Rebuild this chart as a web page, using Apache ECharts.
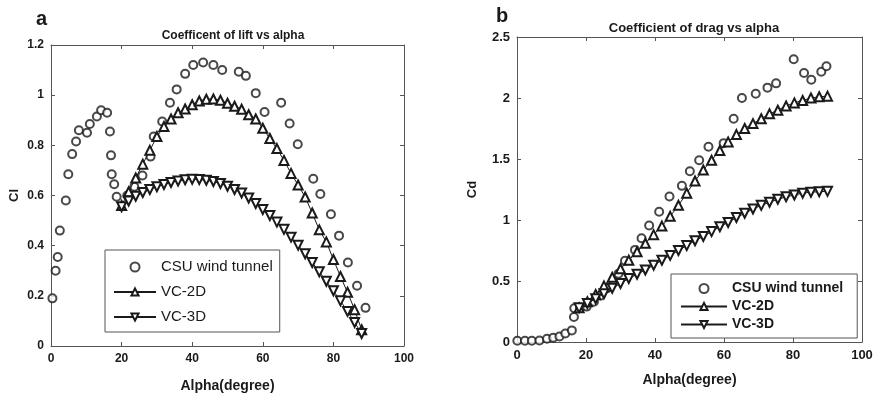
<!DOCTYPE html>
<html>
<head>
<meta charset="utf-8">
<script src="https://cdn.jsdelivr.net/npm/echarts@6/dist/echarts.min.js"></script>
<style>
  html, body { margin: 0; padding: 0; background: #fff; }
  #chart { width: 878px; height: 400px; }
</style>
</head>
<body>
<div id="chart"></div>
<script>
// ---- panel a : lift ----
const liftCsuX = [0.4, 1.3, 1.9, 2.5, 4.2, 4.9, 6.0, 7.1, 7.9, 10.2, 11.0, 13.0, 14.2, 15.9, 16.7, 17.0, 17.2, 17.9, 18.6,
  21.6, 23.6, 25.9, 28.2, 29.1, 31.5, 33.7, 35.6, 38.0, 40.3, 43.1, 46.0, 48.5, 53.2, 55.2, 58.0, 60.5, 65.2, 67.6, 69.9,
  74.3, 76.3, 79.3, 81.6, 84.1, 86.7, 89.1];
const liftCsuY = [0.19, 0.30, 0.355, 0.46, 0.58, 0.685, 0.765, 0.815, 0.86, 0.85, 0.885, 0.915, 0.94, 0.93, 0.855, 0.76, 0.685, 0.645, 0.595,
  0.60, 0.635, 0.68, 0.755, 0.835, 0.895, 0.97, 1.023, 1.085, 1.12, 1.13, 1.12, 1.10, 1.093, 1.077, 1.008, 0.933, 0.97, 0.887, 0.804,
  0.667, 0.606, 0.525, 0.44, 0.333, 0.24, 0.152];
const liftVcX = [20, 22, 24, 26, 28, 30, 32, 34, 36, 38, 40, 42, 44, 46, 48, 50, 52, 54, 56, 58, 60, 62, 64, 66, 68, 70,
  72, 74, 76, 78, 80, 82, 84, 86, 88];
const lift2dY = [0.56, 0.615, 0.67, 0.725, 0.78, 0.835, 0.875, 0.905, 0.93, 0.945, 0.962, 0.977, 0.984, 0.985, 0.98, 0.968,
  0.956, 0.944, 0.922, 0.905, 0.868, 0.827, 0.787, 0.74, 0.688, 0.642, 0.594, 0.53, 0.463, 0.415, 0.345, 0.277, 0.214, 0.145, 0.065];
const lift3dY = [0.555, 0.578, 0.597, 0.612, 0.624, 0.635, 0.644, 0.652, 0.658, 0.663, 0.665, 0.664, 0.661, 0.656, 0.648, 0.637,
  0.624, 0.61, 0.59, 0.568, 0.544, 0.52, 0.494, 0.465, 0.434, 0.402, 0.368, 0.333, 0.296, 0.258, 0.22, 0.18, 0.138, 0.094, 0.05];

// ---- panel b : drag ----
const dragCsuX = [0.1, 2.3, 4.3, 6.5, 8.7, 10.5, 12.3, 14.0, 15.9, 16.5, 16.6, 18.3, 20.2, 22.3, 24.2, 26.2, 28.0, 29.4, 31.3,
  34.2, 36.1, 38.3, 41.2, 44.2, 47.8, 50.1, 52.8, 55.5, 59.9, 62.8, 65.2, 69.2, 72.6, 75.1, 80.2, 83.2, 85.3, 88.2, 89.7];
const dragCsuY = [0.01, 0.01, 0.01, 0.013, 0.027, 0.035, 0.045, 0.07, 0.095, 0.205, 0.276, 0.278, 0.29, 0.33, 0.38, 0.44, 0.50, 0.56, 0.665,
  0.755, 0.85, 0.955, 1.067, 1.193, 1.28, 1.40, 1.49, 1.60, 1.63, 1.83, 2.0, 2.035, 2.085, 2.12, 2.317, 2.205, 2.15, 2.215, 2.26];
const dragVcX = [18, 20.4, 22.8, 25.2, 27.6, 30, 32.4, 34.8, 37.2, 39.6, 42, 44.4, 46.8, 49.2, 51.6, 54, 56.4, 58.8, 61.2,
  63.6, 66, 68.4, 70.8, 73.2, 75.6, 78, 80.4, 82.8, 85.2, 87.6, 90];
const drag2dY = [0.28, 0.33, 0.39, 0.46, 0.53, 0.60, 0.67, 0.74, 0.81, 0.88, 0.95, 1.03, 1.12, 1.22, 1.32, 1.41, 1.49, 1.57, 1.64,
  1.70, 1.75, 1.79, 1.83, 1.87, 1.90, 1.935, 1.96, 1.98, 2.0, 2.01, 2.015];
const drag3dY = [0.28, 0.315, 0.355, 0.395, 0.44, 0.48, 0.52, 0.555, 0.59, 0.63, 0.67, 0.71, 0.75, 0.79, 0.83, 0.865, 0.905, 0.945, 0.98,
  1.02, 1.055, 1.09, 1.12, 1.145, 1.17, 1.19, 1.205, 1.22, 1.228, 1.232, 1.235];

const seriesNames = ['CSU wind tunnel', 'VC-2D', 'VC-3D'];

function pairs(xs, ys) {
  return xs.map((x, i) => [x, ys[i]]);
}

const ink = '#1a1a1a';
const boxColor = '#555';
const font = 'Liberation Sans, Arial, sans-serif';

function axisPair(grid, isX, min, max, interval, name, nameGap, nameSize, labelSize) {
  const main = {
    type: 'value', gridIndex: grid, min: min, max: max, interval: interval,
    position: isX ? 'bottom' : 'left',
    name: name, nameLocation: 'middle', nameGap: nameGap,
    nameTextStyle: { color: ink, fontSize: nameSize, fontWeight: 'bold', fontFamily: font },
    axisLine: { show: true, onZero: false, lineStyle: { color: boxColor, width: 1 } },
    axisTick: { show: true, inside: true, length: 4, lineStyle: { color: boxColor } },
    axisLabel: { color: ink, fontSize: labelSize, fontWeight: 'bold', fontFamily: font, margin: 7 },
    splitLine: { show: false }
  };
  const mirror = {
    type: 'value', gridIndex: grid, min: min, max: max, interval: interval,
    position: isX ? 'top' : 'right',
    axisLine: { show: true, onZero: false, lineStyle: { color: boxColor, width: 1 } },
    axisTick: { show: true, inside: true, length: 4, lineStyle: { color: boxColor } },
    axisLabel: { show: false },
    splitLine: { show: false }
  };
  return [main, mirror];
}

function makeSeries(xi, yi, csu, vc2, vc3, vcX) {
  return [
    { name: seriesNames[0], type: 'scatter', xAxisIndex: xi, yAxisIndex: yi, data: pairs(csu[0], csu[1]),
      symbol: 'emptyCircle', symbolSize: 8, itemStyle: { color: ink, borderWidth: 1 } },
    { name: seriesNames[1], type: 'line', xAxisIndex: xi, yAxisIndex: yi, data: pairs(vcX, vc2),
      symbol: 'emptyTriangle', symbolSize: 9, showAllSymbol: true,
      lineStyle: { color: ink, width: 1 }, itemStyle: { color: ink, borderWidth: 1 } },
    { name: seriesNames[2], type: 'line', xAxisIndex: xi, yAxisIndex: yi, data: pairs(vcX, vc3),
      symbol: 'emptyTriangle', symbolRotate: 180, symbolSize: 9, showAllSymbol: true,
      lineStyle: { color: ink, width: 1 }, itemStyle: { color: ink, borderWidth: 1 } }
  ];
}

const xa = axisPair(0, true, 0, 100, 20, 'Alpha(degree)', 33, 14, 12);
const ya = axisPair(0, false, 0, 1.2, 0.2, 'Cl', 30, 13, 12);
const xb = axisPair(1, true, 0, 100, 20, 'Alpha(degree)', 31, 14, 13);
const yb = axisPair(1, false, 0, 2.5, 0.5, 'Cd', 38, 13, 13);

const chart = echarts.init(document.getElementById('chart'), null, { renderer: 'canvas' });
chart.setOption({
  backgroundColor: '#fff',
  animation: false,
  title: [
    { text: 'a', left: 31, top: 4, textStyle: { fontSize: 20, fontWeight: 'bold', color: ink, fontFamily: font } },
    { text: 'Coefficent of lift vs alpha', left: 228, top: 25, textAlign: 'center',
      textStyle: { fontSize: 12, fontWeight: 'bold', color: ink, fontFamily: font } },
    { text: 'b', left: 491, top: 1, textStyle: { fontSize: 20, fontWeight: 'bold', color: ink, fontFamily: font } },
    { text: 'Coefficient of drag vs alpha', left: 689, top: 17, textAlign: 'center',
      textStyle: { fontSize: 13, fontWeight: 'bold', color: ink, fontFamily: font } }
  ],
  grid: [
    { left: 51, top: 45, width: 353, height: 301 },
    { left: 517, top: 37, width: 345, height: 305 }
  ],
  legend: [
    { data: seriesNames, orient: 'vertical', left: 105, top: 250, itemWidth: 42, itemHeight: 9, itemGap: 9,
      padding: [9, 7, 7, 8], borderColor: '#555', borderWidth: 1, backgroundColor: '#fff', selectedMode: false,
      textStyle: { color: ink, fontSize: 15, lineHeight: 16, fontFamily: font } },
    { data: seriesNames, orient: 'vertical', left: 671, top: 274, itemWidth: 46, itemHeight: 9, itemGap: 3,
      padding: [7, 14, 6, 9], borderColor: '#555', borderWidth: 1, backgroundColor: '#fff', selectedMode: false,
      textStyle: { color: ink, fontSize: 14, fontWeight: 'bold', lineHeight: 15, fontFamily: font } }
  ],
  xAxis: [xa[0], xa[1], xb[0], xb[1]],
  yAxis: [ya[0], ya[1], yb[0], yb[1]],
  series: [].concat(
    makeSeries(0, 0, [liftCsuX, liftCsuY], lift2dY, lift3dY, liftVcX),
    makeSeries(2, 2, [dragCsuX, dragCsuY], drag2dY, drag3dY, dragVcX)
  )
});
</script>
</body>
</html>
